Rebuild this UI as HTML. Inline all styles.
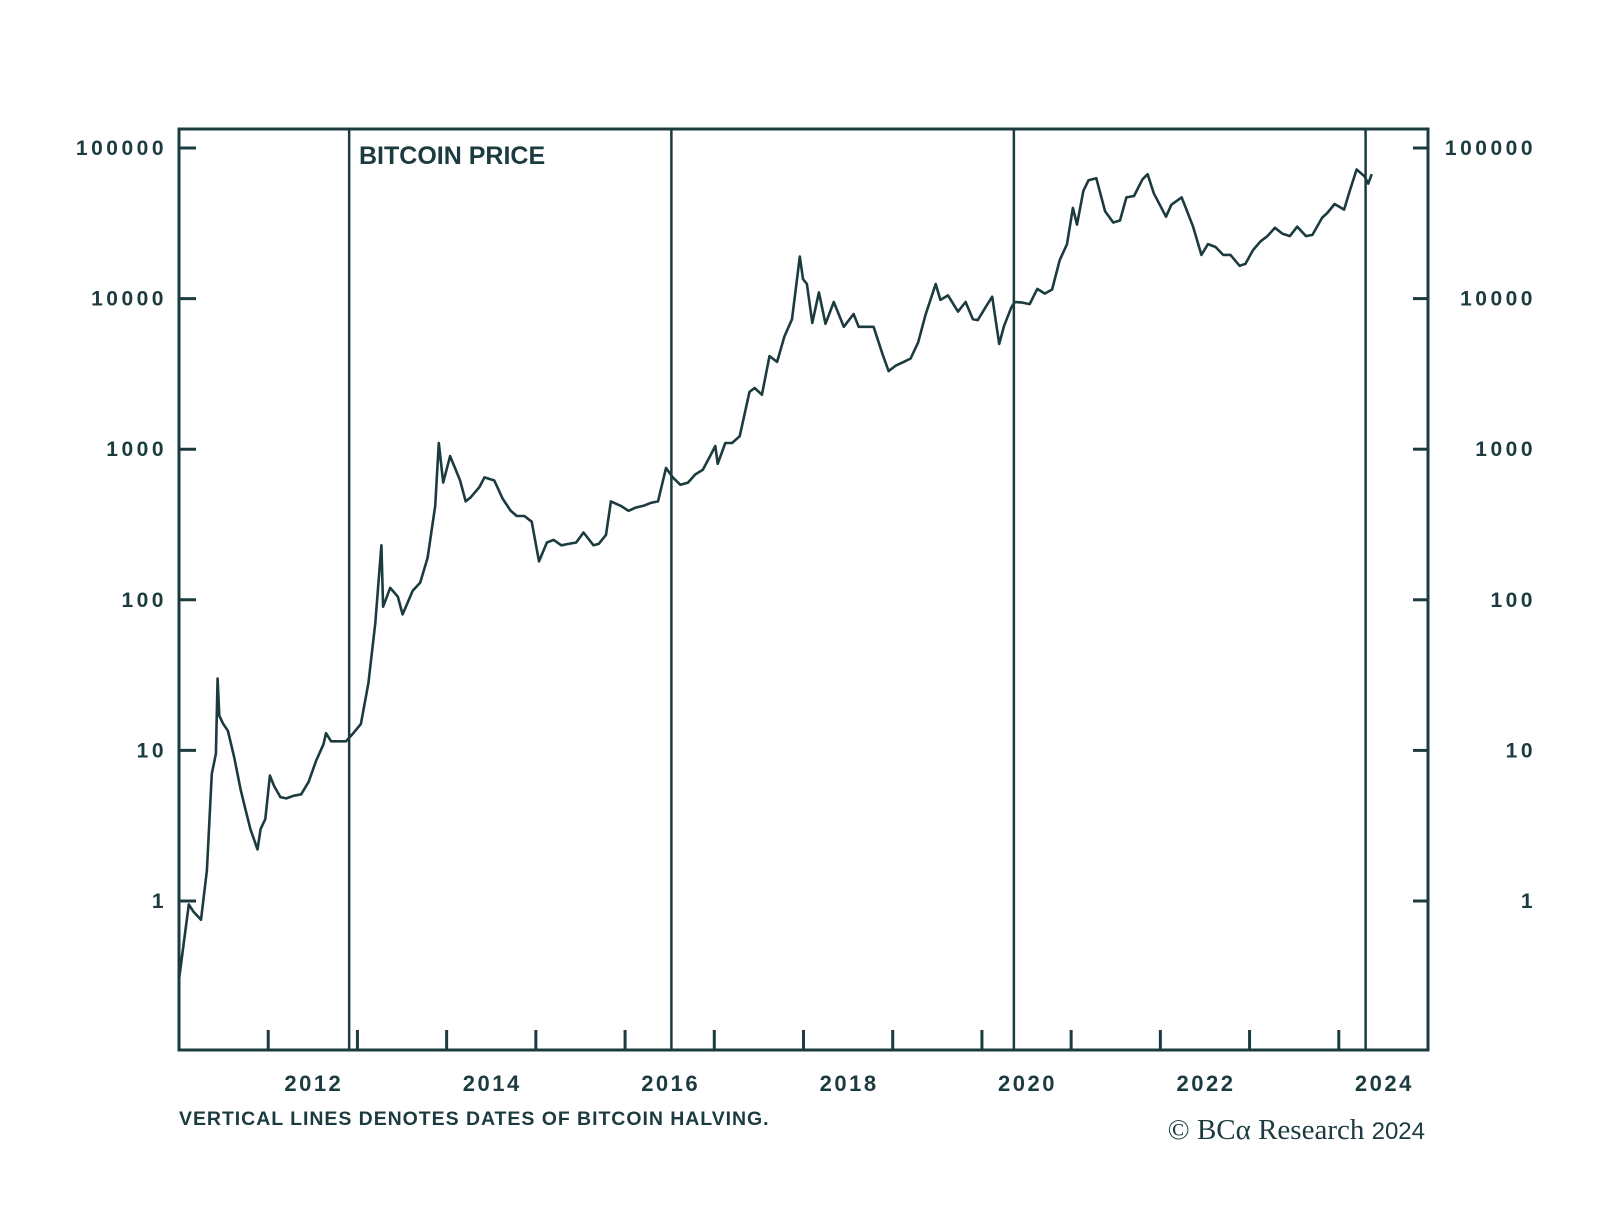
<!DOCTYPE html>
<html><head><meta charset="utf-8"><style>
html,body{margin:0;padding:0;background:#fff;}
body{width:1600px;height:1225px;overflow:hidden;}
svg text{font-family:"Liberation Sans",sans-serif;fill:#1c3b3f;}
</style></head><body>
<svg id="chart" width="1600" height="1225" viewBox="0 0 1600 1225" xmlns="http://www.w3.org/2000/svg">
<g id="axes"></g>
<g id="halvings"></g>
<path id="priceLine" fill="none" stroke="#1c3b3f" stroke-width="2.6" stroke-linejoin="round"></path>
<text x="359" y="164" font-size="25" font-weight="600">BITCOIN PRICE</text>
<text x="179" y="1125" font-size="19.5" font-weight="700" letter-spacing="0.95">VERTICAL LINES DENOTES DATES OF BITCOIN HALVING.</text>
<text x="1425" y="1139" font-size="29" text-anchor="end" style="font-family:'Liberation Serif',serif">© BCα Research <tspan style="font-family:'Liberation Sans',sans-serif" font-size="24">2024</tspan></text>
</svg>
<script>
const dates = ["2011-01-01","2011-02-10","2011-03-01","2011-04-01","2011-04-25","2011-05-15","2011-06-01","2011-06-08","2011-06-15","2011-07-01","2011-07-20","2011-08-15","2011-09-10","2011-10-01","2011-10-20","2011-11-18","2011-12-01","2011-12-20","2012-01-08","2012-01-25","2012-02-20","2012-03-15","2012-04-15","2012-05-15","2012-06-15","2012-07-15","2012-08-15","2012-08-25","2012-09-15","2012-10-15","2012-11-15","2012-12-15",
"2013-01-15","2013-02-15","2013-03-15","2013-04-09","2013-04-16","2013-05-15","2013-06-15","2013-07-05","2013-08-15","2013-09-15","2013-10-15","2013-11-15","2013-11-30","2013-12-18","2014-01-15","2014-02-25","2014-03-20","2014-04-10","2014-05-15","2014-06-05","2014-07-15","2014-08-18","2014-09-20","2014-10-15","2014-11-15","2014-12-15",
"2015-01-14","2015-02-15","2015-03-15","2015-04-15","2015-05-15","2015-06-15","2015-07-15","2015-08-25","2015-09-15","2015-10-15","2015-11-04","2015-12-15","2016-01-15","2016-02-15","2016-03-15","2016-04-15","2016-05-15","2016-06-17","2016-07-15","2016-08-15","2016-09-15","2016-10-15","2016-11-15","2016-12-15",
"2017-01-05","2017-01-15","2017-02-15","2017-03-15","2017-04-15","2017-05-25","2017-06-15","2017-07-15","2017-08-15","2017-09-15","2017-10-15","2017-11-15","2017-12-17","2017-12-30","2018-01-15","2018-02-06","2018-03-05","2018-04-01","2018-05-05","2018-06-15","2018-07-25","2018-08-15","2018-09-15","2018-10-15","2018-11-20","2018-12-15",
"2019-01-15","2019-02-15","2019-03-15","2019-04-15","2019-05-15","2019-06-26","2019-07-15","2019-08-15","2019-09-25","2019-10-26","2019-11-25","2019-12-15","2020-01-15","2020-02-12","2020-03-12","2020-04-01","2020-04-30","2020-05-15","2020-06-15","2020-07-15","2020-08-15","2020-09-15","2020-10-15","2020-11-15","2020-12-15",
"2021-01-08","2021-01-25","2021-02-20","2021-03-13","2021-04-14","2021-05-20","2021-06-22","2021-07-20","2021-08-15","2021-09-15","2021-10-20","2021-11-10","2021-12-05","2022-01-24","2022-02-15","2022-03-29","2022-04-15","2022-05-15","2022-06-18","2022-07-15","2022-08-15","2022-09-15","2022-10-15","2022-11-21","2022-12-15",
"2023-01-15","2023-02-15","2023-03-15","2023-04-15","2023-05-15","2023-06-15","2023-07-15","2023-08-20","2023-09-15","2023-10-25","2023-11-15","2023-12-15","2024-01-23","2024-02-15","2024-03-14","2024-04-15","2024-05-01","2024-05-15"];
const prices = [0.3,0.95,0.85,0.75,1.6,7,9.5,30,17,15,13.5,9,5.5,4,3,2.2,3,3.5,6.8,5.8,4.9,4.8,5,5.1,6.2,8.5,11,13,11.5,11.5,11.5,13,
15,28,70,230,90,120,105,80,115,130,190,420,1100,600,900,620,450,480,560,650,620,470,390,360,360,330,
180,240,250,230,235,240,280,230,235,270,450,420,390,410,420,440,450,750,650,580,600,680,730,900,
1050,800,1100,1100,1220,2400,2550,2300,4150,3800,5600,7300,19000,13500,12500,6900,11000,6800,9500,6500,7900,6500,6500,6500,4300,3300,
3600,3800,4000,5100,7800,12500,9800,10500,8200,9500,7300,7200,8700,10300,5000,6600,8700,9500,9400,9200,11600,10800,11500,18000,23000,
40000,31000,52000,61000,63000,38000,32000,33000,47000,48000,62000,67000,50000,35000,42000,47000,40000,30000,19500,23000,22000,19500,19500,16500,17000,
21000,24000,26000,29500,27000,26000,30000,26000,26500,34500,37000,42500,39000,52000,72000,65000,58000,67000];
const halvingDates = ["2012-11-28","2016-07-09","2020-05-11","2024-04-20"];
const yTicks = [1,10,100,1000,10000,100000];
const yTickLabels = ["1","10","100","1000","10000","100000"];
const xLabelYears = [2012,2014,2016,2018,2020,2022,2024];

const L=179,R=1428,T=129,B=1050,X0=2011,X1=2025;
const NS="http://www.w3.org/2000/svg";
function dec(d){const p=d.split("-").map(Number);const s=Date.UTC(p[0],0,1),e=Date.UTC(p[0]+1,0,1);return p[0]+(Date.UTC(p[0],p[1]-1,p[2])-s)/(e-s);}
function xS(t){return L+(t-X0)/(X1-X0)*(R-L);}
function yS(v){return 901-150.6*Math.log10(v);}
function mk(tag,attrs,parent){const e=document.createElementNS(NS,tag);for(const k in attrs)e.setAttribute(k,attrs[k]);parent.appendChild(e);return e;}
const col="#1c3b3f";
const axes=document.getElementById("axes");
let e=mk("rect",{x:L,y:T,width:R-L,height:B-T,fill:"none",stroke:col,"stroke-width":3},axes);


yTicks.forEach((v,i)=>{
  const y=yS(v);
  let t=mk("line",{x1:L,x2:L+17,y1:y,y2:y,stroke:col,"stroke-width":3},axes);
  
  
  t=mk("line",{x1:R-15,x2:R,y1:y,y2:y,stroke:col,"stroke-width":3},axes);
  
  
  let tx=mk("text",{x:167,y:y+7,"font-size":21,"font-weight":700,"text-anchor":"end","letter-spacing":3.5},axes);
  tx.textContent=yTickLabels[i];
  
  
  tx=mk("text",{x:1536,y:y+7,"font-size":21,"font-weight":700,"text-anchor":"end","letter-spacing":3.5},axes);
  tx.textContent=yTickLabels[i];
  
  
});
for(let yr=2012;yr<=2024;yr++){
  const x=xS(yr);
  const t=mk("line",{x1:x,x2:x,y1:B-20,y2:B,stroke:col,"stroke-width":3},axes);
  
  
}
xLabelYears.forEach(yr=>{
  const tx=mk("text",{x:xS(yr+0.5)+1,y:1091,"font-size":22,"font-weight":700,"text-anchor":"middle","letter-spacing":2.5},axes);
  tx.textContent=String(yr);
  
  
});
const hg=document.getElementById("halvings");
halvingDates.forEach(d=>{
  const x=xS(dec(d));
  const l=mk("line",{x1:x,x2:x,y1:T,y2:B,stroke:col,"stroke-width":2.5},hg);
  
  
});
let dstr="";
dates.forEach((d,i)=>{dstr+=(i?"L":"M")+xS(dec(d)).toFixed(1)+","+yS(prices[i]).toFixed(1);});
document.getElementById("priceLine").setAttribute("d",dstr);
</script>
</body></html>
